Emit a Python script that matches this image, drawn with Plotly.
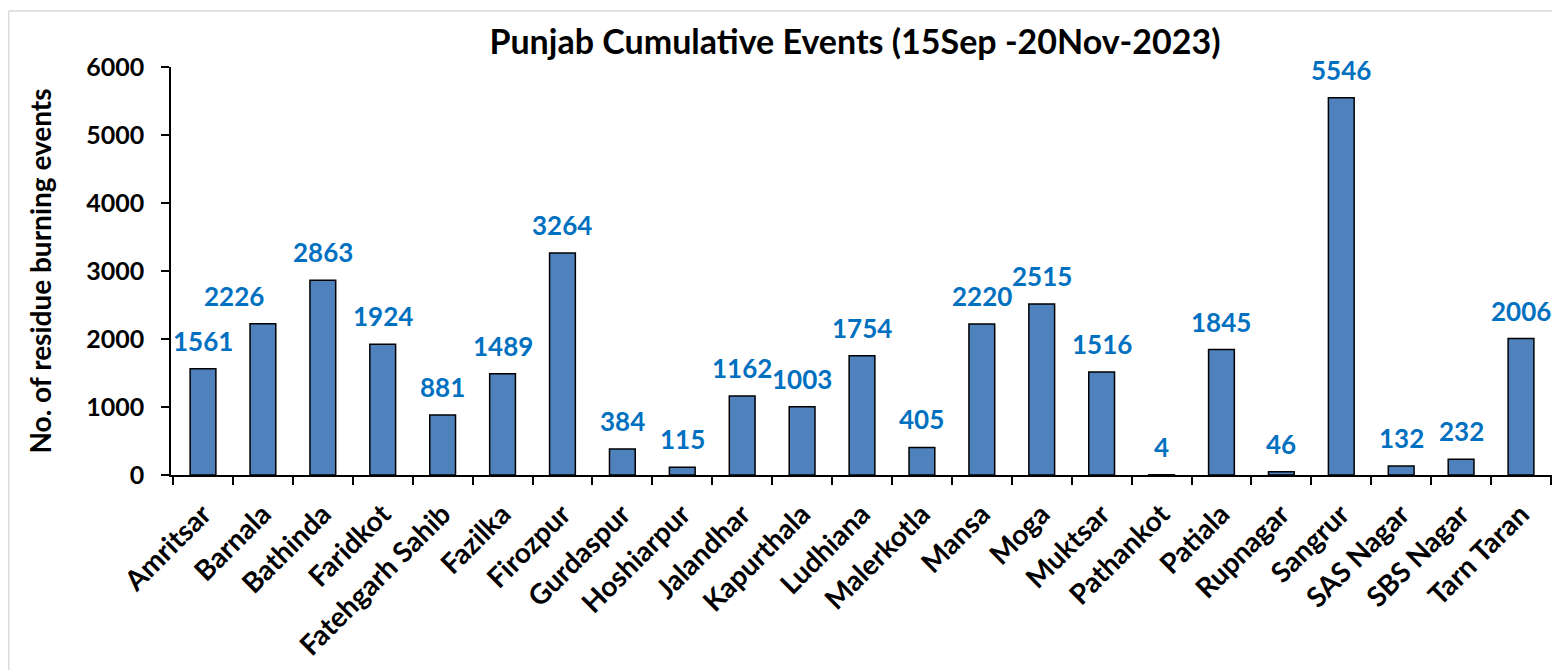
import plotly.graph_objects as go

districts = ["Amritsar", "Barnala", "Bathinda", "Faridkot", "Fatehgarh Sahib", "Fazilka",
             "Firozpur", "Gurdaspur", "Hoshiarpur", "Jalandhar", "Kapurthala", "Ludhiana",
             "Malerkotla", "Mansa", "Moga", "Muktsar", "Pathankot", "Patiala", "Rupnagar",
             "Sangrur", "SAS Nagar", "SBS Nagar", "Tarn Taran"]
events = [1561, 2226, 2863, 1924, 881, 1489, 3264, 384, 115, 1162, 1003, 1754,
          405, 2220, 2515, 1516, 4, 1845, 46, 5546, 132, 232, 2006]
y_ticks = [0, 1000, 2000, 3000, 4000, 5000, 6000]

FONT = "Lato"
W, H = 1552, 662  # page body has an 8px margin

fig = go.Figure()
fig.add_trace(go.Bar(
    x=districts, y=events,
    marker=dict(color="#4F81BD", line=dict(color="#000000", width=1.5)),
    showlegend=False, hoverinfo="x+y",
))

for d, v in zip(districts, events):
    fig.add_annotation(
        x=d, y=v, text=str(v), showarrow=False,
        xanchor="center", yanchor="middle", yshift=28,
        xshift=-29 if d == "Barnala" else 0,
        font=dict(family=FONT, size=26, color="#0070C0", weight="bold"),
    )

# chart frame (left and top borders)
fig.add_shape(type="line", xref="paper", yref="paper", x0=-0.1175, x1=-0.1175, y0=1.137, y1=-0.6,
              line=dict(color="#D9D9D9", width=1.5))
fig.add_shape(type="line", xref="paper", yref="paper", x0=-0.1175, x1=1.01, y0=1.137, y1=1.137,
              line=dict(color="#D9D9D9", width=1.5))

fig.update_layout(
    width=W, height=H,
    margin=dict(l=163, r=7, t=59, b=195),
    plot_bgcolor="white", paper_bgcolor="white",
    bargap=0.57,
    title=dict(text="Punjab Cumulative Events (15Sep -20Nov-2023)",
               xref="container", x=847 / W, xanchor="center",
               yref="container", y=1 - 34 / H, yanchor="middle",
               font=dict(family=FONT, size=34, color="black", weight="bold")),
    xaxis=dict(
        showline=True, linecolor="black", linewidth=1.5,
        ticks="outside", tickson="boundaries", ticklen=8, tickcolor="black", tickwidth=1.5,
        ticklabelstandoff=10,
        tickangle=-45, tickfont=dict(family=FONT, size=28, color="black", weight="bold"),
        showgrid=False,
    ),
    yaxis=dict(
        range=[0, 6000], tickvals=y_ticks,
        showline=True, linecolor="black", linewidth=1.5,
        ticks="outside", ticklen=8, tickcolor="black", tickwidth=1.5,
        ticklabelstandoff=12,
        tickfont=dict(family=FONT, size=25, color="black", weight="bold"),
        showgrid=False, zeroline=False,
        title=dict(text="No. of residue burning events", standoff=26,
                   font=dict(family=FONT, size=28, color="black", weight="bold")),
    ),
)

fig.write_html("out.html")
